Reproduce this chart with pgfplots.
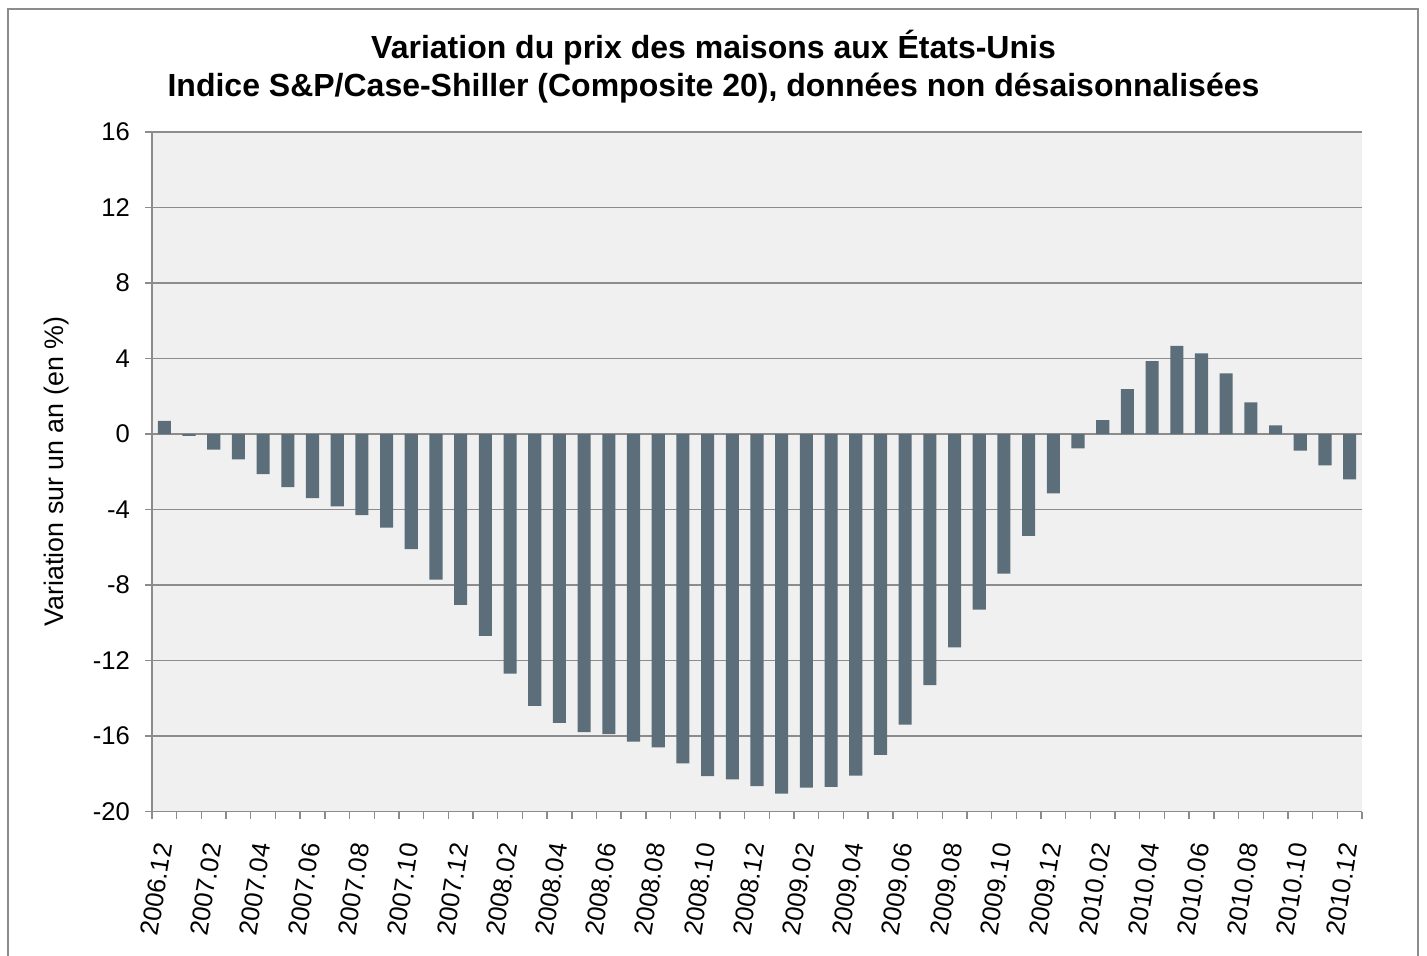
\documentclass[border=0pt]{standalone}
\usepackage{pgfplots}
\pgfplotsset{compat=1.18}
\usepackage{fontspec}
\setmainfont{Liberation Sans}
\definecolor{barc}{HTML}{5B6E7A}
\definecolor{bgc}{HTML}{F0F0F0}
\definecolor{gridc}{HTML}{8C8C8C}
\definecolor{framec}{HTML}{8C8C8C}
\begin{document}
\begin{tikzpicture}[x=1pt,y=1pt]
\useasboundingbox (0,0) rectangle (713.5,477.5);
\clip (0,0) rectangle (713.5,477.5);
\draw[framec, line width=0.6pt] (4,-10) -- (4,473) -- (709,473) -- (709,-10);
\begin{axis}[
  at={(76pt,71.75pt)}, anchor=south west,
  scale only axis, width=605pt, height=339.75pt,
  xmin=-0.5, xmax=48.5, ymin=-20, ymax=16,
  axis background/.style={fill=bgc},
  axis lines*=left,
  axis line style={gridc, line width=0.7pt},
  ytick={-20,-16,...,16},
  ymajorgrids, major grid style={gridc, line width=0.7pt},
  xtick={0,2,...,48},
  xticklabels={2006.12,2007.02,2007.04,2007.06,2007.08,2007.10,2007.12,2008.02,2008.04,2008.06,2008.08,2008.10,2008.12,2009.02,2009.04,2009.06,2009.08,2009.10,2009.12,2010.02,2010.04,2010.06,2010.08,2010.10,2010.12},
  minor xtick={-0.5,0.5,...,48.5},
  tick align=outside,
  major tick length=3.5pt, minor tick length=3.5pt,
  major x tick style={draw=none},
  minor x tick style={gridc, line width=0.7pt},
  y tick style={gridc, line width=0.7pt},
  tick label style={font=\fontsize{12.8}{14}\selectfont},
  /pgf/number format/assume math mode=true,
  xticklabel shift=10pt,
  yticklabel shift=4pt,
  x tick label style={rotate=81, anchor=east, xshift=1pt},
  clip=false,
]
\addplot[ybar, bar width=0.53, fill=barc, draw=none] coordinates {
(0,0.70) (1,-0.10) (2,-0.83) (3,-1.34) (4,-2.13) (5,-2.82) (6,-3.40) (7,-3.83) (8,-4.30) (9,-4.96)
(10,-6.10) (11,-7.71) (12,-9.05) (13,-10.7) (14,-12.7) (15,-14.4) (16,-15.3) (17,-15.8) (18,-15.9) (19,-16.3)
(20,-16.6) (21,-17.45) (22,-18.13) (23,-18.3) (24,-18.66) (25,-19.05) (26,-18.73) (27,-18.7) (28,-18.1) (29,-17.0)
(30,-15.4) (31,-13.3) (32,-11.3) (33,-9.3) (34,-7.4) (35,-5.4) (36,-3.14) (37,-0.76) (38,0.74) (39,2.38)
(40,3.86) (41,4.67) (42,4.27) (43,3.21) (44,1.68) (45,0.46) (46,-0.88) (47,-1.66) (48,-2.40)
};
\end{axis}
\node[font=\bfseries\fontsize{16}{18}\selectfont] at (356.75,453.5) {Variation du prix des maisons aux États-Unis};
\node[font=\bfseries\fontsize{16}{18}\selectfont] at (356.75,433.5) {Indice S\&P/Case-Shiller (Composite 20), données non désaisonnalisées};
\node[rotate=90, font=\fontsize{13.4}{15}\selectfont] at (28.5,241.75) {Variation sur un an (en \%)};
\end{tikzpicture}
\end{document}
